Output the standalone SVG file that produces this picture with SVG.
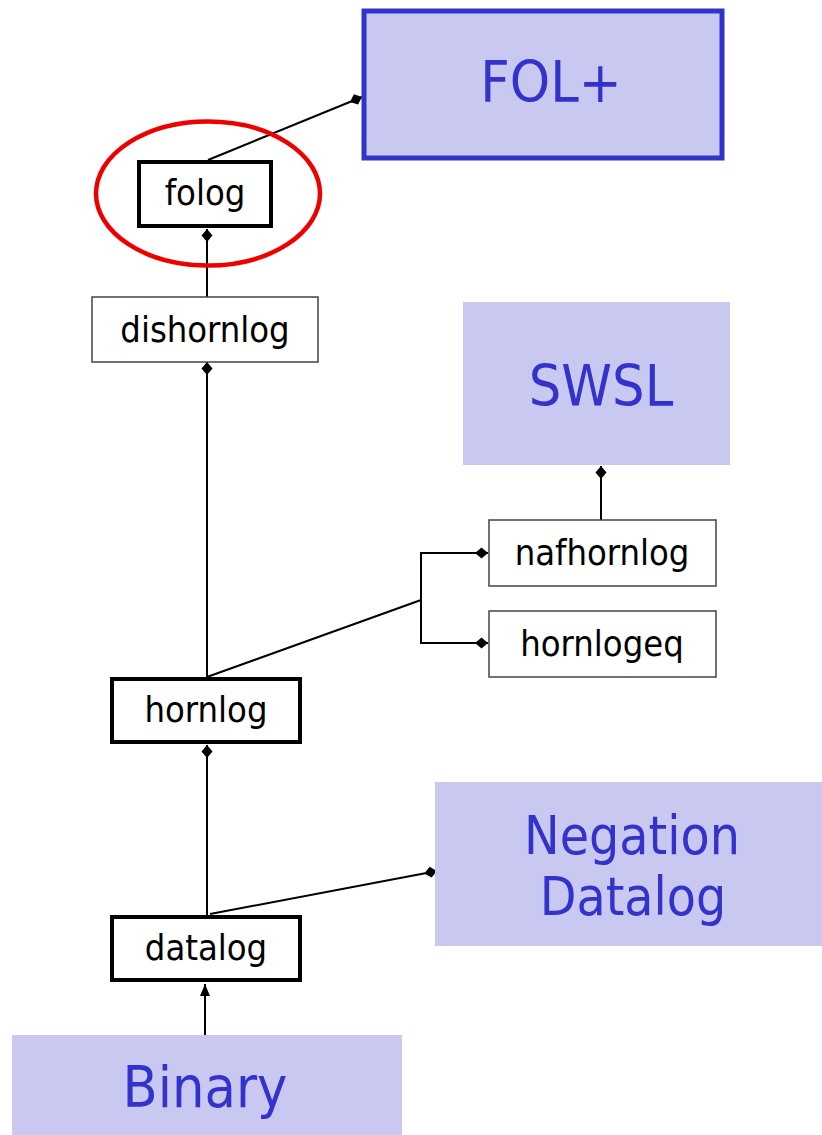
<svg xmlns="http://www.w3.org/2000/svg" width="822" height="1135" viewBox="0 0 822 1135">
<style>
.big{fill:#c8c8f0;stroke:none}
.bigt{font-family:"DejaVu Sans Condensed","DejaVu Sans",sans-serif;font-stretch:condensed;font-size:57px;fill:#3333cc;text-anchor:middle}
.sm{font-family:"DejaVu Sans Condensed","DejaVu Sans",sans-serif;font-stretch:condensed;font-size:36px;fill:#000;text-anchor:middle}
.thick{fill:#fff;stroke:#000;stroke-width:4}
.thin{fill:#fff;stroke:#444;stroke-width:1.5}
.c{fill:none;stroke:#000;stroke-width:2}
</style>
<defs>
<marker id="dia" markerUnits="userSpaceOnUse" markerWidth="16" markerHeight="12" refX="14" refY="6" orient="auto">
<path d="M1,6 L7.5,0.5 L14,6 L7.5,11.5 Z" fill="#000"/>
</marker>
<marker id="arr" markerUnits="userSpaceOnUse" markerWidth="14" markerHeight="12" refX="12" refY="6" orient="auto">
<path d="M0,1 L12,6 L0,11 Z" fill="#000"/>
</marker>
</defs>
<g id="connectors">
<line class="c" x1="208" y1="160" x2="362" y2="97" marker-end="url(#dia)"/>
<line class="c" x1="207" y1="297" x2="207" y2="229" marker-end="url(#dia)"/>
<line class="c" x1="207" y1="677" x2="207" y2="362" marker-end="url(#dia)"/>
<line class="c" x1="601" y1="520" x2="601" y2="466" marker-end="url(#dia)"/>
<line class="c" x1="207" y1="677" x2="421" y2="600"/>
<polyline class="c" points="488,553 421,553 421,643 488,643" marker-end="url(#dia)"/>
<line class="c" x1="421" y1="553" x2="488" y2="553" marker-end="url(#dia)"/>
<line class="c" x1="207" y1="915" x2="207" y2="745" marker-end="url(#dia)"/>
<line class="c" x1="210" y1="914" x2="437" y2="871" marker-end="url(#dia)"/>
<line class="c" x1="205" y1="1035" x2="205" y2="984" marker-end="url(#arr)"/>
</g>
<g id="FOL">
<rect x="364" y="11" width="358" height="147" fill="#c8c8f0" stroke="#3333cc" stroke-width="5"/>
<text class="bigt" x="551" y="102">FOL+</text>
</g>
<g id="folog">
<ellipse cx="208" cy="193.5" rx="112" ry="72" fill="none" stroke="#ee0000" stroke-width="4.5"/>
<rect class="thick" x="139" y="162" width="132" height="64"/>
<text class="sm" x="205" y="205">folog</text>
</g>
<g id="dishornlog">
<rect class="thin" x="92" y="297" width="226" height="65"/>
<text class="sm" x="205" y="342">dishornlog</text>
</g>
<g id="SWSL">
<rect class="big" x="463" y="302" width="267" height="163"/>
<text class="bigt" x="601" y="406">SWSL</text>
</g>
<g id="nafhornlog">
<rect class="thin" x="489" y="520" width="227" height="66"/>
<text class="sm" x="602" y="565">nafhornlog</text>
</g>
<g id="hornlogeq">
<rect class="thin" x="489" y="611" width="227" height="66"/>
<text class="sm" x="602" y="656">hornlogeq</text>
</g>
<g id="hornlog">
<rect class="thick" x="112" y="679" width="188" height="63"/>
<text class="sm" x="206" y="722">hornlog</text>
</g>
<g id="Negation">
<rect class="big" x="435" y="782" width="387" height="164"/>
<text class="bigt" x="632" y="854" style="font-size:53px">Negation</text>
<text class="bigt" x="633" y="915" style="font-size:53px">Datalog</text>
</g>
<g id="datalog">
<rect class="thick" x="112" y="917" width="188" height="63"/>
<text class="sm" x="206" y="960">datalog</text>
</g>
<g id="Binary">
<rect class="big" x="12" y="1035" width="390" height="100"/>
<text class="bigt" x="205" y="1107">Binary</text>
</g>
</svg>
